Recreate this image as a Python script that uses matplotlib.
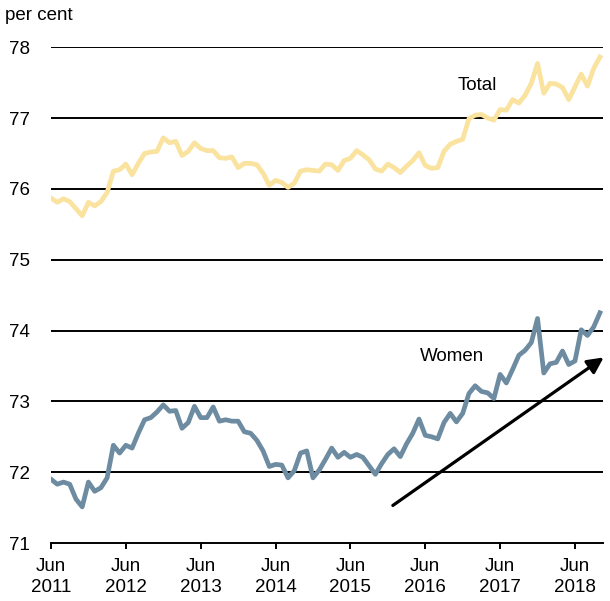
import numpy as np
import matplotlib
matplotlib.use("Agg")
import matplotlib.pyplot as plt

plt.rcParams['font.family'] = ['Liberation Sans', 'DejaVu Sans']

# monthly, Jun 2011 to Oct 2018
total = [75.87, 75.81, 75.86, 75.82, 75.72, 75.62, 75.81, 75.76, 75.82, 75.95,
         76.25, 76.27, 76.35, 76.20, 76.36, 76.50, 76.52, 76.53, 76.72, 76.65,
         76.67, 76.47, 76.53, 76.65, 76.57, 76.54, 76.54, 76.44, 76.43, 76.45,
         76.30, 76.36, 76.36, 76.34, 76.22, 76.05, 76.12, 76.09, 76.02, 76.08,
         76.25, 76.27, 76.26, 76.25, 76.35, 76.34, 76.26, 76.40, 76.43, 76.54,
         76.48, 76.41, 76.28, 76.25, 76.35, 76.30, 76.23, 76.32, 76.40, 76.51,
         76.33, 76.29, 76.30, 76.53, 76.63, 76.67, 76.70, 76.99, 77.04, 77.05,
         77.00, 76.97, 77.12, 77.11, 77.26, 77.21, 77.32, 77.49, 77.77, 77.35,
         77.49, 77.48, 77.43, 77.26, 77.44, 77.62, 77.45, 77.70, 77.86]

women = [71.90, 71.83, 71.86, 71.83, 71.62, 71.51, 71.86, 71.73, 71.78, 71.92,
         72.38, 72.27, 72.38, 72.34, 72.55, 72.74, 72.77, 72.85, 72.95, 72.86,
         72.87, 72.62, 72.70, 72.93, 72.77, 72.77, 72.92, 72.72, 72.74, 72.72,
         72.72, 72.57, 72.55, 72.45, 72.30, 72.08, 72.11, 72.10, 71.92, 72.02,
         72.27, 72.30, 71.92, 72.03, 72.18, 72.34, 72.21, 72.28, 72.21, 72.25,
         72.21, 72.09, 71.97, 72.12, 72.25, 72.33, 72.22, 72.40, 72.55, 72.75,
         72.52, 72.50, 72.47, 72.70, 72.83, 72.71, 72.83, 73.11, 73.22, 73.14,
         73.12, 73.04, 73.38, 73.26, 73.45, 73.65, 73.72, 73.83, 74.17, 73.40,
         73.53, 73.55, 73.71, 73.52, 73.57, 74.01, 73.93, 74.05, 74.25]

tick_labels = ["Jun\n2011", "Jun\n2012", "Jun\n2013", "Jun\n2014",
               "Jun\n2015", "Jun\n2016", "Jun\n2017", "Jun\n2018"]
y_ticks = [71, 72, 73, 74, 75, 76, 77, 78]

# trend arrow (month index, value)
arrow_start = (54.8, 71.53)
arrow_end = (88.6, 73.62)

months = np.arange(len(total))

fig = plt.figure(figsize=(6.1, 6.01), dpi=100)
ax = fig.add_axes([0.0836, 0.0965, 0.905, 0.825])

for y in y_ticks[1:]:
    ax.axhline(y, color='black', lw=1.4, zorder=1)

ax.plot(months, total, color='#FAE29F', lw=3.4, zorder=3, solid_joinstyle='round')
ax.plot(months, women, color='#6D8BA1', lw=3.4, zorder=3, solid_joinstyle='round')

ax.text(68.4, 77.46, "Total", fontsize=13.5, ha='center', va='center')
ax.text(64.3, 73.63, "Women", fontsize=13.5, ha='center', va='center')

ax.annotate("", xy=arrow_end, xytext=arrow_start,
            arrowprops=dict(arrowstyle='-|>', color='black', lw=2.3,
                            mutation_scale=24, shrinkA=0, shrinkB=0),
            annotation_clip=False, zorder=4)

ax.set_xlim(0, 88.5)
ax.set_ylim(71, 78)
ax.set_yticks(y_ticks)
ax.set_yticklabels([str(v) for v in y_ticks], fontsize=13.5)
ax.set_xticks(np.arange(0, 85, 12))
ax.set_xticklabels(tick_labels, fontsize=13.5, linespacing=1.3)

ax.tick_params(axis='y', length=0, pad=15)
ax.tick_params(axis='x', length=4, width=1.4, direction='out', pad=7)

for side in ['left', 'right', 'top']:
    ax.spines[side].set_visible(False)
ax.spines['bottom'].set_linewidth(1.4)
ax.spines['bottom'].set_zorder(2)

fig.text(0.008, 0.975, "per cent", fontsize=13.5, ha='left', va='center')

fig.savefig("out.png", dpi=100)
